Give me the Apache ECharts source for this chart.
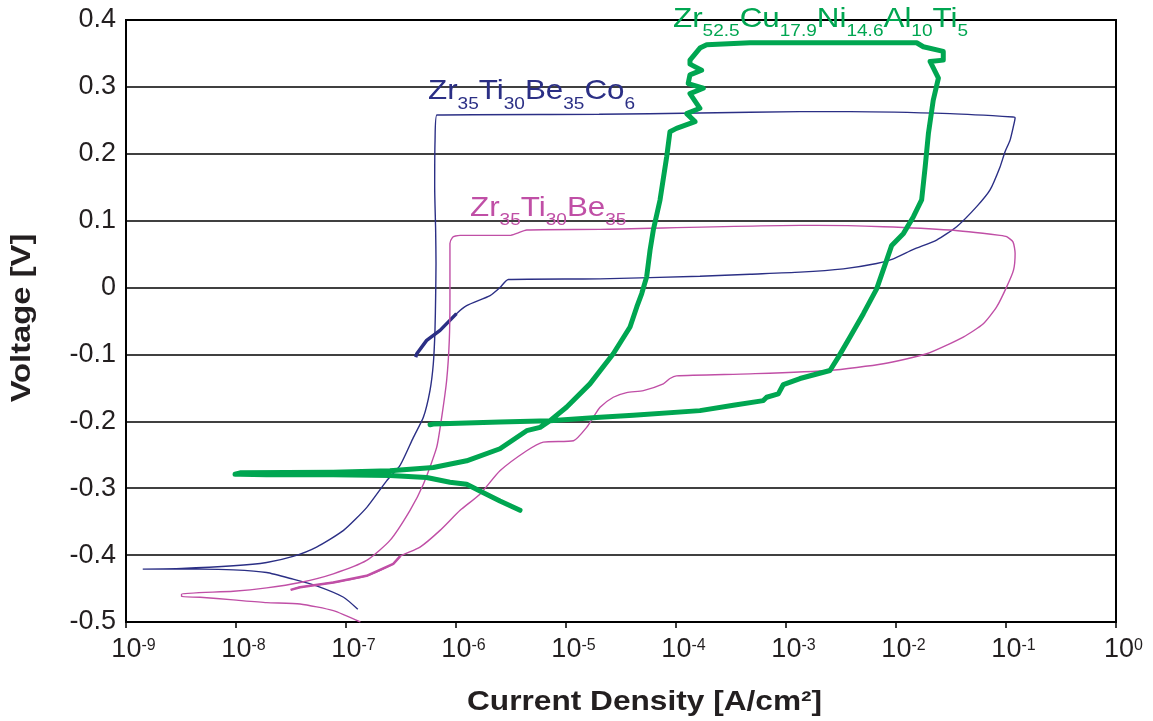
<!DOCTYPE html>
<html>
<head>
<meta charset="utf-8">
<script src="https://cdn.jsdelivr.net/npm/echarts@6/dist/echarts.min.js"></script>
<style>
html,body{margin:0;padding:0;background:#fff;}
#chart{width:1153px;height:721px;}
</style>
</head>
<body>
<div id="chart"></div>
<script>
// ---- data: [current density (A/cm^2), voltage (V)] in scan order ----
const navyCurve = [
  [1.28e-7,-0.481],[9.5e-8,-0.463],[5.4e-8,-0.446],[3.3e-8,-0.436],[1.9e-8,-0.426],[9.5e-9,-0.422],[4.7e-9,-0.421],[1.42e-9,-0.421],
  [3.2e-9,-0.420],[9.5e-9,-0.416],[1.9e-8,-0.411],[3.3e-8,-0.402],[5.4e-8,-0.388],[9.5e-8,-0.363],[1.54e-7,-0.329],[2.34e-7,-0.289],
  [3.1e-7,-0.266],[4.1e-7,-0.224],[5.05e-7,-0.194],[5.8e-7,-0.154],[6.22e-7,-0.114],[6.44e-7,-0.064],[6.53e-7,-0.014],[6.58e-7,0.036],
  [6.53e-7,0.086],[6.4e-7,0.15],[6.45e-7,0.22],[6.7e-7,0.258],
  [2e-5,0.259],[1.65e-4,0.261],[1.34e-3,0.263],[3.8e-3,0.263],[3.1e-2,0.260],[1.16e-1,0.255],[1.21e-1,0.254],
  [1.164e-1,0.240],[1.087e-1,0.220],[9.8e-2,0.203],[8.81e-2,0.180],[7.16e-2,0.146],[5.41e-2,0.121],[3.56e-2,0.091],
  [2.34e-2,0.071],[1.44e-2,0.057],[9.46e-3,0.043],[6.67e-3,0.036],[3.32e-3,0.028],[1.34e-3,0.023],[4.71e-4,0.020],
  [1.65e-4,0.017],[2.04e-5,0.013],[2.99e-6,0.012],[2.51e-6,0.0],[2.04e-6,-0.012],[1.25e-6,-0.027],
  [1.01e-6,-0.039],[7.16e-7,-0.064],[5.41e-7,-0.079],[4.4e-7,-0.099],[4.3e-7,-0.104]
];
const pinkCurve = [
  [1.35e-7,-0.5],[7.67e-8,-0.483],[3.82e-8,-0.473],[1.9e-8,-0.471],[9.46e-9,-0.467],[4.71e-9,-0.463],[3.2e-9,-0.462],
  [3.2e-9,-0.458],[9.46e-9,-0.454],[1.9e-8,-0.449],[3.82e-8,-0.441],[7.67e-8,-0.428],[1.54e-7,-0.408],[2.51e-7,-0.378],
  [3.82e-7,-0.333],[5.05e-7,-0.294],[6.67e-7,-0.239],[7.41e-7,-0.194],[8.22e-7,-0.139],[8.69e-7,-0.079],[8.81e-7,-0.014],
  [8.81e-7,0.066],[9.3e-7,0.075],[9.9e-7,0.077],[1.09e-6,0.078],[3.1e-6,0.078],[3.56e-6,0.081],[4.4e-6,0.086],
  [2.04e-5,0.087],[1.34e-3,0.093],[1.9e-3,0.093],[7.67e-3,0.091],[3.1e-2,0.086],[8.81e-2,0.078],[1.014e-1,0.076],
  [1.16e-1,0.068],[1.21e-1,0.051],[1.17e-1,0.026],[1.014e-1,0.001],[8.22e-2,-0.029],[6.22e-2,-0.054],[4.09e-2,-0.074],
  [1.9e-2,-0.099],[7.67e-3,-0.114],[2.51e-3,-0.124],[4.71e-4,-0.129],[1.01e-4,-0.132],[8.81e-5,-0.136],[7.67e-5,-0.144],
  [5.05e-5,-0.154],[3.56e-5,-0.157],[2.69e-5,-0.164],[2.04e-5,-0.179],[1.77e-5,-0.194],[1.54e-5,-0.209],[1.17e-5,-0.229],
  [6.22e-6,-0.231],[4.39e-6,-0.244],[2.51e-6,-0.274],[1.65e-6,-0.309],[1.09e-6,-0.333],[7.16e-7,-0.363],[4.71e-7,-0.388],
  [3.1e-7,-0.402],[2.69e-7,-0.413],[1.54e-7,-0.431],[7.67e-8,-0.441],[3.82e-8,-0.448],[3.14e-8,-0.452]
];
const greenCurve = [
  [3.82e-6,-0.333],[2.51e-6,-0.319],[1.65e-6,-0.304],[1.25e-6,-0.294],[8.81e-7,-0.291],[5.41e-7,-0.284],[2.51e-7,-0.281],
  [7.67e-8,-0.280],[1.9e-8,-0.280],[1.09e-8,-0.279],[9.8e-9,-0.279],
  [1.09e-8,-0.277],[7.67e-8,-0.276],[2.51e-7,-0.274],[6.22e-7,-0.269],[1.25e-6,-0.259],[2.51e-6,-0.241],[4.39e-6,-0.214],
  [5.81e-6,-0.209],[7.16e-6,-0.199],[1.01e-5,-0.179],[1.65e-5,-0.144],[2.69e-5,-0.099],[3.82e-5,-0.059],[4.4e-5,-0.029],
  [4.88e-5,-0.009],[5.41e-5,0.016],[5.81e-5,0.056],[6.22e-5,0.086],[7.16e-5,0.131],[8.22e-5,0.195],[8.81e-5,0.233],
  [1.01e-4,0.238],[1.49e-4,0.248],[1.25e-4,0.260],[1.65e-4,0.268],[1.34e-4,0.290],[1.77e-4,0.298],[1.29e-4,0.305],
  [1.34e-4,0.318],[1.71e-4,0.325],[1.34e-4,0.334],[1.34e-4,0.340],[1.65e-4,0.358],[1.9e-4,0.363],
  [4.71e-4,0.366],[1.54e-2,0.366],[1.77e-2,0.360],[2.69e-2,0.353],[2.69e-2,0.340],[2.04e-2,0.338],[2.43e-2,0.313],
  [2.18e-2,0.280],[1.97e-2,0.230],[1.84e-2,0.180],[1.71e-2,0.131],[1.44e-2,0.106],[1.17e-2,0.081],[9.14e-3,0.063],
  [8.22e-3,0.041],[6.67e-3,-0.002],[5.05e-3,-0.039],[3.82e-3,-0.074],[2.99e-3,-0.104],[2.51e-3,-0.124],[1.34e-3,-0.136],
  [9.46e-4,-0.145],[8.51e-4,-0.159],[6.67e-4,-0.164],[6.22e-4,-0.169],[3.32e-4,-0.176],[1.65e-4,-0.184],[4.09e-5,-0.191],
  [2.04e-5,-0.194],[7.16e-6,-0.199],[2.51e-6,-0.201],[6.22e-7,-0.204],[5.81e-7,-0.205]
];
// series labels: [element, subscript]
const navyLabel = [['Zr','35'],['Ti','30'],['Be','35'],['Co','6']];
const pinkLabel = [['Zr','35'],['Ti','30'],['Be','35']];
const greenLabel = [['Zr','52.5'],['Cu','17.9'],['Ni','14.6'],['Al','10'],['Ti','5']];
const yTitle = 'Voltage [V]';
const xTitle = 'Current Density [A/cm²]';

const NAVY = '#2b2f85', PINK = '#c04fa6', GREEN = '#00a651', INK = '#231f20';
const FONT = '"Liberation Sans", Arial, Helvetica, sans-serif';

function formula(parts){ return parts.map(p => '{m|' + p[0] + '}{s|' + p[1] + '}').join(''); }
function formulaRich(color){
  return {
    m:{fontSize:28, lineHeight:28, fontFamily:FONT, fill:color},
    s:{fontSize:17, lineHeight:17, fontFamily:FONT, fill:color, verticalAlign:'middle', padding:[25,0,0,0]}
  };
}
function labelEl(parts, color, x, y){
  return {type:'text', x:x, y:y, scaleX:1.12, z:100,
    style:{text:formula(parts), rich:formulaRich(color), fill:color, font:'28px ' + FONT}};
}

const chart = echarts.init(document.getElementById('chart'), null, {renderer:'canvas'});
chart.setOption({
  backgroundColor:'#fff',
  animation:false,
  grid:{left:126, right:37, top:20, bottom:99, show:true, borderColor:'#000', borderWidth:2, backgroundColor:'transparent'},
  xAxis:{
    type:'log', logBase:10, min:1e-9, max:1, splitNumber:10,
    axisLine:{show:true, onZero:false, lineStyle:{color:'#000', width:1.5}},
    axisTick:{show:true, inside:false, length:6, lineStyle:{color:'#000', width:1.5}},
    minorTick:{show:false},
    splitLine:{show:false},
    axisLabel:{
      margin:14, color:INK,
      formatter:function(v){ const e = Math.round(Math.log10(v)); return '{pad| }{b|10}{s|' + e + '}'; },
      rich:{
        pad:{width:15, fontSize:27, lineHeight:28},
        b:{fontSize:27, lineHeight:28, fontFamily:FONT, color:INK},
        s:{fontSize:16, lineHeight:16, fontFamily:FONT, color:INK, verticalAlign:'middle', padding:[0,0,9,0]}
      }
    }
  },
  yAxis:{
    type:'value', min:-0.5, max:0.4, interval:0.1,
    axisLine:{show:true, onZero:false, lineStyle:{color:'#000', width:1.5}},
    axisTick:{show:false},
    splitLine:{show:true, lineStyle:{color:'#000', width:1.5}},
    axisLabel:{margin:10, fontSize:27, fontFamily:FONT, color:INK,
      formatter:function(v){ const r = Math.round(v*10)/10; return (r === 0 ? 0 : r).toString(); }}
  },
  series:[
    {type:'line', data:navyCurve, showSymbol:false, smooth:0.2, lineStyle:{color:NAVY, width:1.4}, z:2},
    {type:'line', data:navyCurve.slice(-5), showSymbol:false, lineStyle:{color:NAVY, width:3.5}, z:2},
    {type:'line', data:pinkCurve, showSymbol:false, smooth:0.2, lineStyle:{color:PINK, width:1.4}, z:3},
    {type:'line', data:pinkCurve.slice(-6), showSymbol:false, lineStyle:{color:PINK, width:2.5}, z:3},
    {type:'line', data:greenCurve, showSymbol:false, lineStyle:{color:GREEN, width:5, join:'round', cap:'round'}, z:4}
  ],
  graphic:[
    labelEl(navyLabel, NAVY, 428, 77.5),
    labelEl(pinkLabel, PINK, 470, 194),
    labelEl(greenLabel, GREEN, 673, 5),
    {type:'text', x:467, y:702, scaleX:1.13, z:100,
      style:{text:xTitle, font:'bold 28px ' + FONT, fill:INK, align:'left', verticalAlign:'middle'}},
    {type:'text', x:22, y:318, rotation:Math.PI/2, scaleX:1.17, z:100,
      style:{text:yTitle, font:'bold 28px ' + FONT, fill:INK, align:'center', verticalAlign:'middle'}}
  ]
});
</script>
</body>
</html>
